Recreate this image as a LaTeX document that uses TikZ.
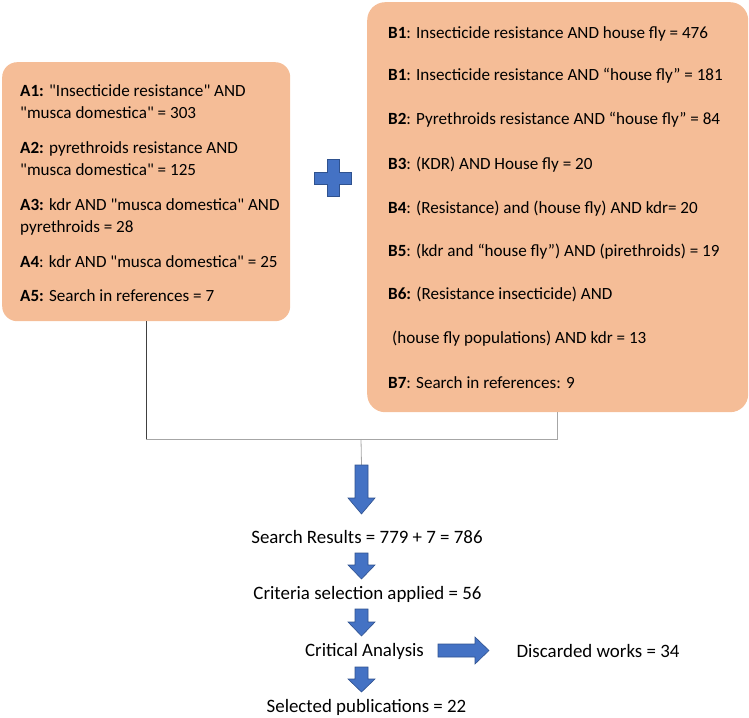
\documentclass[tikz,border=0pt]{standalone}
\usepackage{fontspec}
\setmainfont{Carlito}
\definecolor{peach}{HTML}{F5BD97}
\definecolor{arrblue}{HTML}{4472C4}
\definecolor{arrbord}{HTML}{2F528F}
\newcommand{\dq}{\textquotedbl}
\begin{document}
\begin{tikzpicture}[x=1pt,y={(0,-1pt)},
  box/.style={rectangle, fill=peach, draw=none, inner sep=0pt},
  txt/.style={anchor=base west, inner sep=0pt, font=\fontsize{17.1}{20}\selectfont},
  btxt/.style={anchor=base west, inner sep=0pt, font=\fontsize{17.1}{20}\selectfont},
  ctxt/.style={anchor=center, inner sep=0pt, font=\fontsize{18.9}{22}\selectfont},
  blockarrow/.style={fill=arrblue, draw=arrbord, line width=0.6pt, line join=miter},
  conn/.style={draw=gray!70, line width=0.8pt},
  connd/.style={draw=black!75, line width=0.8pt}]
\useasboundingbox (0,0) rectangle (749,717);

% Box A
\node[box, rounded corners=15pt, minimum width=288pt, minimum height=259pt, anchor=north west] (A) at (2,62) {};
\node[txt] (a1a) at (20,96) {\textbf{A1:} \dq Insecticide resistance\dq{} AND};
\node[txt] (a1b) at (20,118) {\dq musca domestica\dq{} = 303};
\node[txt] (a2a) at (20,153) {\textbf{A2:} pyrethroids resistance AND};
\node[txt] (a2b) at (20,175) {\dq musca domestica\dq{} = 125};
\node[txt] (a3a) at (20,210) {\textbf{A3:} kdr AND \dq musca domestica\dq{} AND};
\node[txt] (a3b) at (20,232) {pyrethroids = 28};
\node[txt] (a4) at (20,267) {\textbf{A4}: kdr AND \dq musca domestica\dq{} = 25};
\node[txt] (a5) at (20,301) {\textbf{A5:} Search in references = 7};

% Box B
\node[box, rounded corners=18pt, minimum width=381pt, minimum height=410pt, anchor=north west] (B) at (367,2) {};
\node[btxt] (b1) at (388,38) {\textbf{B1}: Insecticide resistance AND house fly = 476};
\node[btxt] (b1b) at (388,81) {\textbf{B1}: Insecticide resistance AND “house fly” = 181};
\node[btxt] (b2) at (388,124) {\textbf{B2}: Pyrethroids resistance AND “house fly” = 84};
\node[btxt] (b3) at (388,169) {\textbf{B3}: (KDR) AND House fly = 20};
\node[btxt] (b4) at (388,213) {\textbf{B4}: (Resistance) and (house fly) AND kdr= 20};
\node[btxt] (b5) at (388,256) {\textbf{B5}: (kdr and “house fly”) AND (pirethroids) = 19};
\node[btxt] (b6a) at (388,299) {\textbf{B6:} (Resistance insecticide) AND};
\node[btxt] (b6b) at (392,343) {(house fly populations) AND kdr = 13};
\node[btxt] (b7) at (388,388) {\textbf{B7}: Search in references: 9};

% Plus sign
\draw[blockarrow] (327,159) -- (339,159) -- (339,172) -- (351,172) -- (351,184) -- (339,184)
  -- (339,196) -- (327,196) -- (327,184) -- (314,184) -- (314,172) -- (327,172) -- cycle;

% Connector lines
\coordinate (j) at (361,439);
\coordinate (a1top) at (361.5,465);
\draw[connd] (A.south) -- (A.south |- j);
\draw[conn] (A.south |- j) -- (B.south |- j) -- (B.south);
\draw[conn] (j) -- (a1top);

% Bottom texts
\node[ctxt] (sr) at (367,537) {Search Results = 779 + 7 = 786};
\node[ctxt] (cs) at (367.5,594) {Criteria selection applied = 56};
\node[ctxt] (ca) at (364.5,651) {Critical Analysis};
\node[ctxt] (dw) at (598,651) {Discarded works = 34};
\node[ctxt] (sp) at (366.5,707) {Selected publications = 22};

% Down block arrows
\foreach \t/\h/\p in {465/498/514, 553/565/579, 609/622/636, 667/679/692}{
  \draw[blockarrow] (355,\t) -- (368,\t) -- (368,\h) -- (375,\h) -- (361.5,\p) -- (348,\h) -- (355,\h) -- cycle;
}
% Right block arrow
\draw[blockarrow] (438,644) -- (475,644) -- (475,637) -- (489,650.5) -- (475,664) -- (475,657) -- (438,657) -- cycle;
\end{tikzpicture}
\end{document}
